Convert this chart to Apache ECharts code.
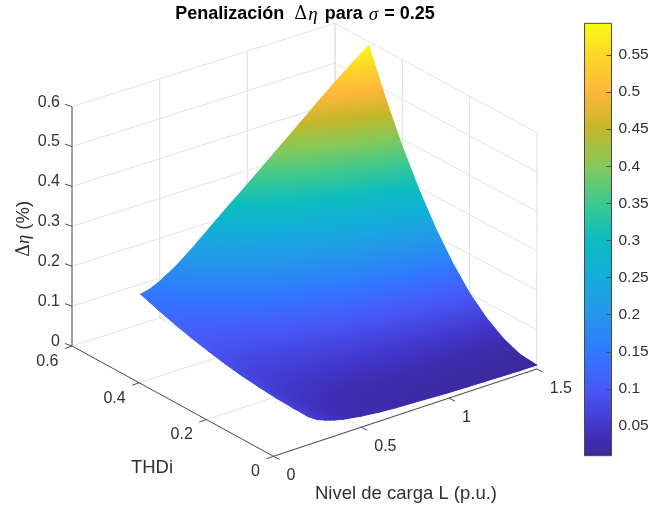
<!DOCTYPE html>
<html>
<head>
<meta charset="utf-8">
<style>html,body{margin:0;padding:0;background:#fff}#c{width:670px;height:509px}</style>
<script src="https://cdn.jsdelivr.net/npm/echarts@6/dist/echarts.min.js"></script>
</head>
<body>
<div id="c"></div>
<script>
// ---- data ----
const loadL = [0.2,0.25,0.3,0.35,0.4,0.5,0.6,0.7,0.8,0.9,1.0,1.1,1.2,1.3,1.4,1.5];
const thdi = [0,0.05,0.1,0.15,0.2,0.25,0.3,0.35,0.4,0.45,0.5];
const etaAtT000 = [.070,.056,.047,.040,.035,.028,.023,.020,.018,.016,.014,.013,.012,.011,.010,.010];
const etaAtT005 = [.071,.057,.048,.041,.037,.030,.026,.023,.021,.019,.018,.017,.016,.016,.015,.015];
const etaAtT010 = [.073,.060,.051,.045,.041,.036,.033,.031,.030,.030,.030,.030,.030,.031,.032,.033];
const etaAtT015 = [.077,.065,.057,.052,.049,.045,.044,.044,.045,.047,.049,.051,.054,.056,.059,.062];
const etaAtT020 = [.082,.072,.065,.062,.060,.059,.061,.063,.067,.071,.076,.081,.086,.091,.097,.102];
const etaAtT025 = [.089,.080,.076,.074,.074,.076,.081,.088,.095,.103,.111,.119,.128,.137,.146,.155];
const etaAtT030 = [.098,.091,.089,.089,.091,.098,.107,.118,.129,.141,.154,.166,.179,.192,.205,.219];
const etaAtT035 = [.108,.104,.104,.107,.111,.123,.137,.153,.169,.187,.204,.222,.240,.258,.276,.294];
const etaAtT040 = [.120,.118,.121,.127,.134,.152,.172,.194,.216,.239,.262,.286,.309,.333,.357,.381];
const etaAtT045 = [.133,.135,.141,.150,.161,.187,.216,.245,.275,.305,.335,.365,.395,.425,.453,.480];
const etaAtT050 = [.148,.153,.163,.176,.190,.224,.262,.299,.335,.372,.410,.447,.485,.522,.557,.591];
const etaRows = [etaAtT000,etaAtT005,etaAtT010,etaAtT015,etaAtT020,etaAtT025,etaAtT030,etaAtT035,etaAtT040,etaAtT045,etaAtT050];
const lTicks = [0,0.5,1,1.5];
const tTicks = [0,0.2,0.4,0.6];
const zTicks = [0,0.1,0.2,0.3,0.4,0.5,0.6];
const barTicks = [0.05,0.1,0.15,0.2,0.25,0.3,0.35,0.4,0.45,0.5,0.55];
const barMin = 0.01, barMax = 0.5927;
// colour bar, as read at these values
const paletteAt = [0.01,0.03,0.05,0.1,0.15,0.2,0.25,0.3,0.35,0.4,0.45,0.5,0.55,0.5927];
const palette = ['#3b2a9e','#3e2cb0','#4237cc','#4858f8','#3079ff','#2596ea','#14addb','#0cbcc0','#3cc98f','#84c95a','#c4b72a','#ffb73c','#fbd728','#f9fb15'];

// ---- view of the box ----
const LMAX = 1.5, TMAX = 0.6, ZMAX = 0.6;
const FLOOR = {a:[273.5,456.3], b:[536.7,369], c:[72,346], d:[335,262]};
const TOP   = {a:[273.5,218],   b:[537,132.7], c:[72,106.7], d:[335,23.3]};
function bil(q,u,v,k){return q.a[k]*(1-u)*(1-v)+q.b[k]*u*(1-v)+q.c[k]*(1-u)*v+q.d[k]*u*v;}
function proj(L,T,z){
  const u=L/LMAX,v=T/TMAX,w=z/ZMAX;
  return [0,1].map(k=>{const f=bil(FLOOR,u,v,k),t=bil(TOP,u,v,k);return f+(t-f)*w;});
}
const G = echarts.graphic;
const stops = palette.map((c,i)=>({offset:(paletteAt[i]-barMin)/(barMax-barMin),color:c}));
function colorAt(z){
  let i=0; while(i<paletteAt.length-2 && z>paletteAt[i+1]) i++;
  const t=Math.max(0,Math.min(1,(z-paletteAt[i])/(paletteAt[i+1]-paletteAt[i])));
  return echarts.color.lerp(t,[palette[i],palette[i+1]]);
}
function triFill(p,z){
  const x1=p[1][0]-p[0][0],y1=p[1][1]-p[0][1],x2=p[2][0]-p[0][0],y2=p[2][1]-p[0][1];
  const d1=z[1]-z[0],d2=z[2]-z[0],det=x1*y2-x2*y1;
  if(Math.abs(det)<1e-6) return colorAt((z[0]+z[1]+z[2])/3);
  const a=(d1*y2-d2*y1)/det,b=(x1*d2-x2*d1)/det,n=a*a+b*b;
  if(n<1e-10) return colorAt((z[0]+z[1]+z[2])/3);
  const s0=(barMin-z[0])/n,s1=(barMax-z[0])/n;
  return new G.LinearGradient(p[0][0]+a*s0,p[0][1]+b*s0,p[0][0]+a*s1,p[0][1]+b*s1,stops,true);
}

// surface cells: back to front
const cells=[];
for(let j=thdi.length-2;j>=0;j--) for(let i=loadL.length-2;i>=0;i--) cells.push([i,j]);

function cellGroup(api,styler){
  const i=api.value(0),j=api.value(1);
  const P=(ii,jj)=>api.coord(proj(loadL[ii],thdi[jj],etaRows[jj][ii]));
  const tris=[[[i+1,j+1],[i,j+1],[i+1,j]],[[i,j+1],[i,j],[i+1,j]]];
  return {type:'group',children:tris.map(t=>{
    const pts=t.map(v=>P(v[0],v[1])),zs=t.map(v=>etaRows[v[1]][v[0]]),f=triFill(pts,zs);
    return {type:'polygon',shape:{points:pts},style:styler(f)};
  })};
}
const renderSurfaceBase=(params,api)=>cellGroup(api,f=>({fill:f,stroke:f,lineWidth:0.9}));
const renderSurface=(params,api)=>cellGroup(api,f=>({fill:f}));

// frame: walls, floor, axis lines, ticks, labels
const GRID='#e3e3e3', AX='#4a4a4a', TXT='#303030', FONT='16px "Liberation Sans", Arial, sans-serif', FONTL='18.5px "Liberation Sans", Arial, sans-serif';
function renderFrame(params,api){
  const kids=[];
  const line=(a,b,c,w)=>{const p=api.coord(a),q=api.coord(b);
    kids.push({type:'line',shape:{x1:p[0],y1:p[1],x2:q[0],y2:q[1]},style:{stroke:c,lineWidth:w}});};
  const seg3=(a,b,c,w)=>line(proj(a[0],a[1],a[2]),proj(b[0],b[1],b[2]),c,w);
  const text=(s,p,align,dx,dy)=>kids.push({type:'text',style:{text:s,x:p[0]+dx,y:p[1]+dy,textAlign:align,textVerticalAlign:'middle',font:FONT,fill:TXT}});
  zTicks.forEach(z=>{ seg3([0,TMAX,z],[LMAX,TMAX,z],GRID,1); seg3([LMAX,TMAX,z],[LMAX,0,z],GRID,1); });
  lTicks.forEach(L=>{ if(L>0) seg3([L,0,0],[L,TMAX,0],GRID,1); seg3([L,TMAX,0],[L,TMAX,ZMAX],GRID,1.2); });
  tTicks.forEach(T=>{ if(T<TMAX) seg3([0,T,0],[LMAX,T,0],GRID,1); seg3([LMAX,T,0],[LMAX,T,ZMAX],GRID,1.2); });
  seg3([0,0,0],[LMAX,0,0],AX,1);
  seg3([0,0,0],[0,TMAX,0],AX,1);
  seg3([0,TMAX,0],[0,TMAX,ZMAX],'#8c8c8c',1.6);
  zTicks.forEach(z=>{const p=proj(0,TMAX,z);line(p,[p[0]-7,p[1]-2.5],AX,1);text(String(z),p,'right',-12,-4.5);});
  tTicks.forEach(T=>{const p=proj(0,T,0);line(p,[p[0]-7,p[1]+2.5],AX,1);text(String(T),p,'right',-13.5,15.5);});
  lTicks.forEach(L=>{const p=proj(L,0,0);line(p,[p[0]+6,p[1]+3],AX,1);text(String(L),p,'left',13,19.5);});
  kids.push({type:'text',style:{text:'THDi',x:api.coord([152,0])[0],y:api.coord([0,468])[1],textAlign:'center',textVerticalAlign:'middle',font:FONTL,fill:TXT}});
  kids.push({type:'text',style:{text:'Nivel de carga L (p.u.)',x:api.coord([406,0])[0],y:api.coord([0,494])[1],textAlign:'center',textVerticalAlign:'middle',font:FONTL,fill:TXT}});
  kids.push({type:'text',x:api.coord([24,0])[0],y:api.coord([0,229])[1],rotation:Math.PI/2,style:{
    text:'{d|Δ}{i|η}{a| (%)}',textAlign:'center',textVerticalAlign:'middle',fill:TXT,
    rich:{a:{font:FONTL,fill:TXT},d:{font:'18px "DejaVu Serif", serif',fill:TXT},i:{font:'italic 18.5px "Liberation Serif", serif',fill:TXT}}}});
  return {type:'group',children:kids};
}

function renderBar(params,api){
  const p=api.coord([0,barMax]),q=api.coord([1,barMin]);
  return {type:'rect',shape:{x:p[0],y:p[1],width:q[0]-p[0],height:q[1]-p[1]},
    style:{stroke:'#4a4a4a',lineWidth:1,fill:new G.LinearGradient(0,1,0,0,stops)}};
}

const boldRich={fontFamily:'"Liberation Sans", Arial',fontWeight:'bold',fontSize:18,color:'#000'};
const chart=echarts.init(document.getElementById('c'),null,{renderer:'canvas'});
chart.setOption({
  animation:false,
  backgroundColor:'#fff',
  title:{left:300,top:0,textAlign:'center',
    text:'{b|Penalización }{d|Δ}{i|η}{b| para }{s|σ}{b| = 0.25}',
    textStyle:{rich:{b:boldRich,
      d:{fontFamily:'"DejaVu Serif"',fontWeight:'normal',fontSize:18,color:'#000',padding:[0,0,0,5]},
      i:{fontFamily:'"Liberation Serif"',fontStyle:'italic',fontWeight:'normal',fontSize:19,color:'#000',padding:[0,2,0,1]},
      s:{fontFamily:'"Liberation Serif"',fontStyle:'italic',fontWeight:'normal',fontSize:19,color:'#000',padding:[0,1,0,1]}}}},
  grid:[{left:0,top:0,width:670,height:509},{left:584.5,top:23.3,width:27,height:432.4}],
  xAxis:[{type:'value',gridIndex:0,min:0,max:670,show:false},{type:'value',gridIndex:1,min:0,max:1,show:false}],
  yAxis:[{type:'value',gridIndex:0,min:0,max:509,inverse:true,show:false},
    {type:'value',gridIndex:1,min:barMin,max:barMax,position:'right',z:10,
     axisLine:{show:false,onZero:false},splitLine:{show:false},
     axisTick:{show:true,inside:true,length:5,lineStyle:{color:'#4a4a4a',width:1},customValues:barTicks},
     axisLabel:{show:true,margin:7,color:TXT,fontSize:15.5,fontFamily:'"Liberation Sans", Arial',customValues:barTicks,formatter:v=>String(v),showMinLabel:true,showMaxLabel:true}}],
  series:[
    {type:'custom',name:'frame',xAxisIndex:0,yAxisIndex:0,silent:true,clip:false,data:[[0]],renderItem:renderFrame,z:1},
    {type:'custom',name:'surfaceBase',xAxisIndex:0,yAxisIndex:0,silent:true,clip:false,data:cells,renderItem:renderSurfaceBase,z:2},
    {type:'custom',name:'surface',xAxisIndex:0,yAxisIndex:0,silent:true,clip:false,data:cells,renderItem:renderSurface,z:3},
    {type:'custom',name:'colorbar',xAxisIndex:1,yAxisIndex:1,silent:true,clip:false,data:[[0]],renderItem:renderBar,z:2}
  ]
});
</script>
</body>
</html>
